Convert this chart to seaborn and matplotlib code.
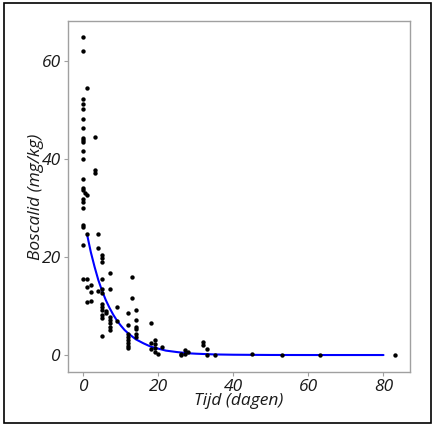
import numpy as np
import pandas as pd
import matplotlib
matplotlib.use("Agg")
import matplotlib.pyplot as plt
import seaborn as sns

tijd = [0, 0, 0, 0, 0, 0, 0, 0, 0, 0, 0, 0, 0, 0, 0, 0, 0, 0, 0, 0, 0, 0,
        0.4, 1, 1, 1, 1, 1, 1,
        2, 2, 2,
        3, 3, 3,
        4, 4, 4,
        5, 5, 5, 5, 5, 5, 5, 5, 5, 5, 5, 5,
        6, 6,
        7, 7, 7, 7, 7, 7, 7,
        9, 9,
        12, 12, 12, 12, 12, 12, 12, 12,
        13, 13,
        14, 14, 14, 14, 14, 14,
        18, 18, 18,
        19, 19, 19, 19,
        20, 21,
        26, 26, 27, 27, 28,
        32, 32, 33, 33, 35,
        45, 53, 63, 83]
boscalid = [64.8, 62.1, 52.2, 51.2, 50.2, 48.2, 46.3, 44.2, 43.9, 43.4, 41.7,
            39.9, 35.9, 34.1, 33.7, 31.8, 31.3, 29.9, 26.5, 26.1, 22.4, 15.5,
            33.1, 54.4, 32.7, 24.6, 15.5, 13.9, 10.9,
            14.2, 12.9, 11.1,
            44.4, 37.8, 37.1,
            24.7, 21.8, 13.1,
            20.5, 19.7, 18.9, 15.6, 13.4, 12.6, 10.4, 9.9, 9.2, 8.2, 7.5, 3.9,
            9.0, 8.5,
            16.7, 13.5, 7.8, 7.1, 6.5, 5.8, 5.1,
            9.7, 7.0,
            8.5, 6.1, 4.3, 3.7, 3.1, 2.5, 1.9, 1.4,
            15.9, 11.7,
            9.2, 7.1, 5.8, 5.4, 4.3, 3.7,
            6.6, 2.4, 1.2,
            3.1, 2.2, 1.4, 0.6,
            0.3, 1.6,
            0.0, 0.2, 1.0, 0.3, 0.7,
            2.6, 2.0, 1.2, 0.1, 0.1,
            0.3, 0.0, 0.1, 0.1]

curve_t = [1, 2, 3, 4, 5, 6, 7, 8, 9, 10, 11, 12, 13, 14, 15, 16, 18, 20,
           22, 25, 28, 30, 35, 40, 50, 60, 70, 80]
curve_y = [24.6, 21.0, 18.0, 15.3, 13.1, 11.2, 9.6, 8.2, 7.0, 6.0, 5.1, 4.4,
           3.8, 3.2, 2.8, 2.4, 1.7, 1.3, 0.9, 0.6, 0.35, 0.27, 0.12, 0.06,
           0.01, 0.0, 0.0, 0.0]

df = pd.DataFrame({"tijd": tijd, "boscalid": boscalid})
fit = pd.DataFrame({"tijd": curve_t, "boscalid": curve_y})

sns.set_theme(style="white")
plt.rcParams["font.family"] = ["Open Sans", "DejaVu Sans"]

fig = plt.figure(figsize=(4.34, 4.26), dpi=100)
ax = fig.add_axes([0.156, 0.1275, 0.789, 0.8225])

sns.scatterplot(data=df, x="tijd", y="boscalid", ax=ax, color="black",
                s=10, linewidth=0, zorder=3)
sns.lineplot(data=fit, x="tijd", y="boscalid", ax=ax, color="#0000ff",
             linewidth=1.5, zorder=2)

ax.set_xlim(-4.16, 87.1)
ax.set_ylim(-3.4, 68.1)
ax.set_xticks([0, 20, 40, 60, 80])
ax.set_yticks([0, 20, 40, 60])

for sp in ax.spines.values():
    sp.set_color("#a0a0a0")
    sp.set_linewidth(1.0)

ax.tick_params(axis="both", which="major", direction="out", length=3,
               width=0.8, color="#a0a0a0", labelsize=12.5, labelcolor="#1a1a1a",
               bottom=True, left=True, pad=2)
for lab in ax.get_xticklabels() + ax.get_yticklabels():
    lab.set_fontstyle("italic")

ax.set_xlabel("Tijd (dagen)", fontsize=12.5, fontstyle="italic", color="#1a1a1a")
ax.set_ylabel("Boscalid (mg/kg)", fontsize=12.5, fontstyle="italic", color="#1a1a1a")
ax.xaxis.set_label_coords(0.5, -0.062)
ax.yaxis.set_label_coords(-0.07, 0.5)

# zwarte rand om de hele figuur
fig.patches.append(plt.Rectangle((0.009, 0.008), 0.984, 0.984,
                                 transform=fig.transFigure, fill=False,
                                 edgecolor="black", linewidth=1.2))

fig.savefig("out.png", dpi=100)
